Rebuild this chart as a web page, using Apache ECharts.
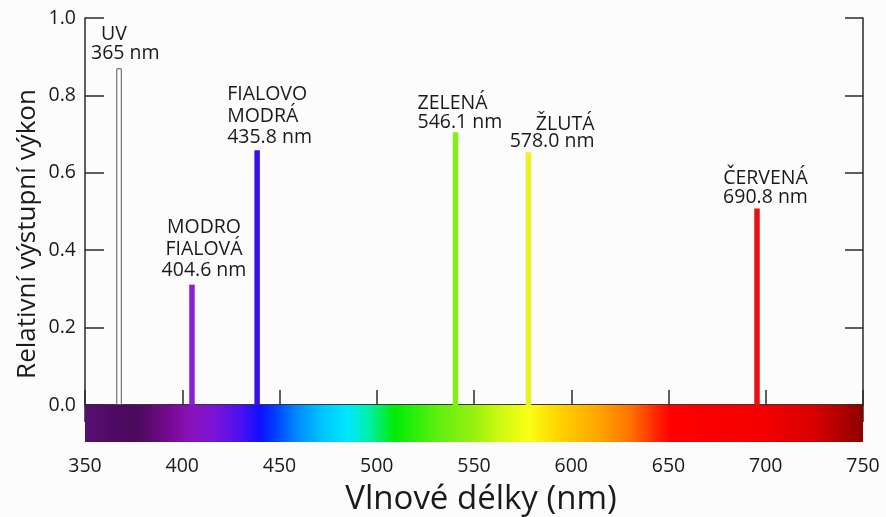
<!DOCTYPE html>
<html>
<head>
<meta charset="utf-8">
<script src="https://cdn.jsdelivr.net/npm/echarts@6/dist/echarts.min.js"></script>
<style>
html,body{margin:0;padding:0;background:#fcfcfc;}
#chart{width:886px;height:517px;}
</style>
</head>
<body>
<div id="chart"></div>
<script>
// ---- data ----
const lineWavelengths = [367.5, 405, 438.5, 540.5, 578, 695.5];
const linePower = [0.87, 0.311, 0.658, 0.705, 0.653, 0.508];
const lineNames = ['UV', 'MODRO\nFIALOVÁ', 'FIALOVO\nMODRÁ', 'ZELENÁ', 'ŽLUTÁ', 'ČERVENÁ'];
const lineNominal = ['365 nm', '404.6 nm', '435.8 nm', '546.1 nm', '578.0 nm', '690.8 nm'];
const xMin = 350, xMax = 750, xStep = 50;
const yMin = 0, yMax = 1, yStep = 0.2;
const spectrumNm = [350, 364, 376, 394, 404, 417, 430, 440, 448, 460, 472, 485, 496, 509, 532, 548, 562, 578, 594, 615, 630, 643, 651, 697, 725, 750];
const spectrumColors = ['#561070', '#500a66', '#4a0a5a', '#780a92', '#8a12b8', '#7a14d8', '#4a10f0', '#1010ff', '#0040ff', '#0090ff', '#00c4ff', '#00e8ff', '#00f0a8', '#00ec06', '#60f010', '#90f010', '#c8f812', '#f8ff14', '#ffd200', '#ffa200', '#ff7400', '#ff2a00', '#ff0000', '#f50000', '#d80000', '#8e0000'];

// ---- styles / layout (not data) ----
const lineColors = ['#ffffff', '#8a22cc', '#3612e2', '#86ee14', '#eef024', '#e81212'];
const labelLayout = [
  {align: 'left',   offset: [-28, -5],   lineHeight: 19},
  {align: 'center', offset: [12, -3],    lineHeight: 21.5},
  {align: 'left',   offset: [-30, -2],   lineHeight: 21.5},
  {align: 'left',   offset: [-38, 0],    lineHeight: 19},
  {align: 'right',  offset: [66, -2.5],  lineHeight: 17},
  {align: 'center', offset: [8.5, -1.5], lineHeight: 19}
];

const FONT = '"Open Sans", "Noto Sans", sans-serif';
const TXT = '#1a1a1a';
const AX = '#2b2b2b';
const FS = 19.5;

const chart = echarts.init(document.getElementById('chart'), null, {renderer: 'canvas'});

const barData = lineWavelengths.map((w, i) => {
  const lay = labelLayout[i];
  const isUV = i === 0;
  return {
    value: [w, linePower[i]],
    itemStyle: isUV ? {color: '#ffffff', borderColor: '#555', borderWidth: 1} : {color: lineColors[i]},
    label: {
      show: true,
      position: 'top',
      distance: 0,
      align: lay.align,
      offset: lay.offset,
      lineHeight: lay.lineHeight,
      fontFamily: FONT,
      fontSize: FS,
      color: TXT,
      formatter: isUV ? '{u|' + lineNames[i] + '}\n' + lineNominal[i] : lineNames[i] + '\n' + lineNominal[i],
      rich: isUV ? {u: {padding: [0, 0, 0, 10], fontFamily: FONT, fontSize: FS, color: TXT, lineHeight: lay.lineHeight}} : {}
    }
  };
});

const gradStops = spectrumNm.map((nm, i) => ({offset: (nm - xMin) / (xMax - xMin), color: spectrumColors[i]}));

const tickLbl = {fontFamily: FONT, fontSize: FS, color: TXT};

chart.setOption({
  backgroundColor: '#fcfcfc',
  animation: false,
  grid: [
    {left: 85, right: 23, top: 18, height: 387, show: false},
    {left: 85, right: 23, top: 405, height: 37, show: false}
  ],
  xAxis: [
    {gridIndex: 0, type: 'value', min: xMin, max: xMax, interval: xStep, position: 'bottom',
     axisLine: {show: true, lineStyle: {color: AX, width: 1.5}},
     axisTick: {show: true, inside: true, length: 15, lineStyle: {color: AX, width: 1.5}},
     axisLabel: {show: false}, splitLine: {show: false}},
    {gridIndex: 0, type: 'value', min: xMin, max: xMax, interval: xStep, position: 'top',
     axisLine: {show: true, lineStyle: {color: AX, width: 1.5}},
     axisTick: {show: true, inside: true, length: 17, lineStyle: {color: AX, width: 1.5}},
     axisLabel: {show: false}, splitLine: {show: false}},
    {gridIndex: 1, type: 'value', min: xMin, max: xMax, interval: xStep, position: 'bottom',
     axisLine: {show: true, lineStyle: {color: AX, width: 1, opacity: 0}},
     axisTick: {show: true, length: 7, lineStyle: {color: AX, width: 1.5}},
     axisLabel: Object.assign({margin: 14}, tickLbl),
     splitLine: {show: false},
     name: 'Vlnové délky (nm)', nameLocation: 'middle', nameGap: 41,
     nameTextStyle: {fontFamily: FONT, fontSize: 33, color: TXT, padding: [0, 0, 0, 14]}}
  ],
  yAxis: [
    {gridIndex: 0, type: 'value', min: yMin, max: yMax, interval: yStep, position: 'left',
     axisLine: {show: true, lineStyle: {color: AX, width: 1.5}},
     axisTick: {show: true, inside: true, length: 19, lineStyle: {color: AX, width: 1.5}},
     axisLabel: Object.assign({margin: 9, formatter: v => v.toFixed(1)}, tickLbl),
     splitLine: {show: false}},
    {gridIndex: 0, type: 'value', min: yMin, max: yMax, interval: yStep, position: 'right',
     axisLine: {show: true, lineStyle: {color: AX, width: 1.5}},
     axisTick: {show: true, inside: true, length: 18, lineStyle: {color: AX, width: 1.5}},
     axisLabel: {show: false}, splitLine: {show: false}},
    {gridIndex: 1, type: 'value', min: -1, max: 0, show: false}
  ],
  graphic: [{
    type: 'text', x: 28, y: 234, rotation: Math.PI / 2,
    style: {text: 'Relativní výstupní výkon', fontFamily: FONT, fontSize: 26, fill: TXT, align: 'center', verticalAlign: 'middle'}
  }],
  series: [
    {type: 'bar', xAxisIndex: 0, yAxisIndex: 0, barWidth: 5.5, data: barData, z: 5},
    {type: 'line', xAxisIndex: 2, yAxisIndex: 2, data: [], symbol: 'none',
     markArea: {silent: true,
       itemStyle: {color: new echarts.graphic.LinearGradient(0, 0, 1, 0, gradStops)},
       data: [[{xAxis: xMin, yAxis: -1}, {xAxis: xMax, yAxis: 0}]]}}
  ]
});
</script>
</body>
</html>
